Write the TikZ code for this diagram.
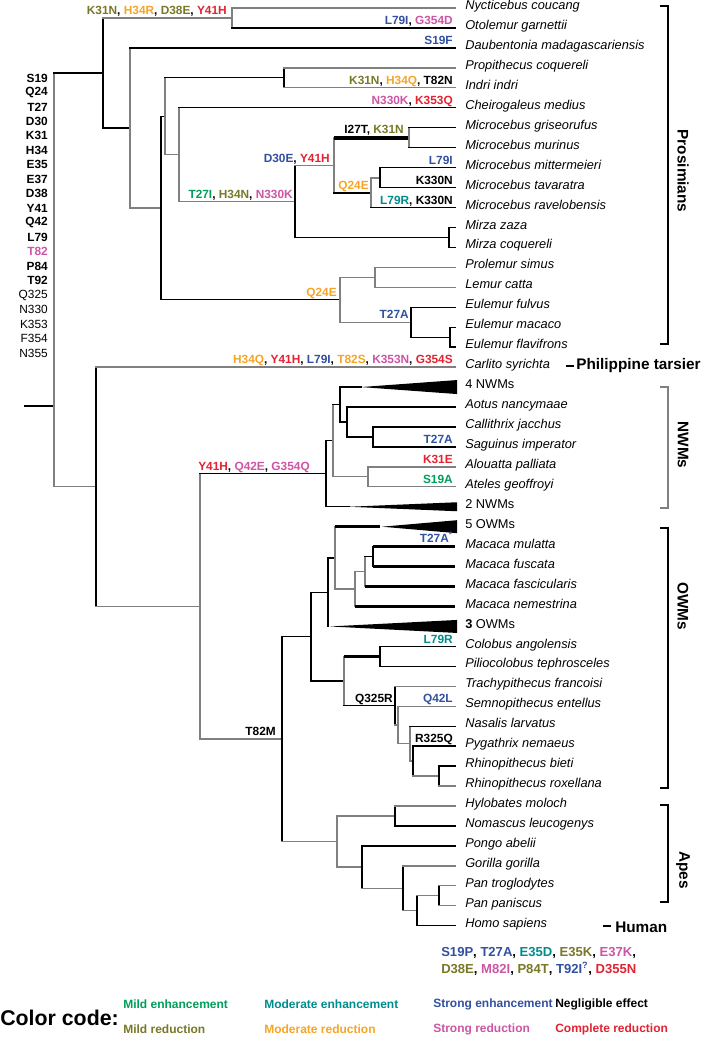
\documentclass[tikz,border=0pt]{standalone}
\usepackage{fontspec}
\setmainfont{Liberation Sans}
\definecolor{tgray}{RGB}{128,128,128}
\definecolor{mildenh}{RGB}{0,158,90}
\definecolor{modenh}{RGB}{0,140,140}
\definecolor{strenh}{RGB}{50,80,160}
\definecolor{mildred}{RGB}{120,120,40}
\definecolor{modred}{RGB}{245,165,40}
\definecolor{strred}{RGB}{205,85,165}
\definecolor{comred}{RGB}{225,35,50}
\newcommand{\cgrn}[1]{\textcolor{mildenh}{#1}}
\newcommand{\cteal}[1]{\textcolor{modenh}{#1}}
\newcommand{\cblue}[1]{\textcolor{strenh}{#1}}
\newcommand{\colv}[1]{\textcolor{mildred}{#1}}
\newcommand{\corg}[1]{\textcolor{modred}{#1}}
\newcommand{\cpink}[1]{\textcolor{strred}{#1}}
\newcommand{\cred}[1]{\textcolor{comred}{#1}}
\tikzset{
  gl/.style={draw=tgray,line width=1pt,line cap=rect},
  bl/.style={draw=black,line width=1pt,line cap=rect},
  tk/.style={draw=black,line width=2.3pt},
  leaf/.style={anchor=base west,inner sep=0pt,yshift=-1.2pt,font=\fontsize{9.6}{11}\selectfont\itshape},
  mut/.style={anchor=base east,inner sep=0pt,yshift=2.5pt,font=\fontsize{8.9}{10}\selectfont\bfseries},
  site/.style={anchor=east,inner sep=0pt,font=\fontsize{8.9}{10}\selectfont\bfseries},
  clade/.style={inner sep=0pt,font=\fontsize{11.5}{13}\selectfont\bfseries},
  key/.style={anchor=west,inner sep=0pt,font=\fontsize{9}{10}\selectfont\bfseries},
}
\begin{document}
\begin{tikzpicture}[x=0.75pt,y=-0.75pt]
    \useasboundingbox (0,0) rectangle (700,1037);
    \foreach \nm [count=\i from 0] in {Nycticebus coucang, Otolemur garnettii,
        Daubentonia madagascariensis, Propithecus coquereli, Indri indri,
        Cheirogaleus medius, Microcebus griseorufus, Microcebus murinus,
        Microcebus mittermeieri, Microcebus tavaratra, Microcebus ravelobensis,
        Mirza zaza, Mirza coquereli, Prolemur simus, Lemur catta, Eulemur fulvus,
        Eulemur macaco, Eulemur flavifrons, Carlito syrichta, \upshape 4 NWMs,
        Aotus nancymaae, Callithrix jacchus, Saguinus imperator, Alouatta palliata,
        Ateles geoffroyi, \upshape 2 NWMs, \upshape 5 OWMs, Macaca mulatta,
        Macaca fuscata, Macaca fascicularis, Macaca nemestrina, \upshape\textbf{3} OWMs,
        Colobus angolensis, Piliocolobus tephrosceles, Trachypithecus francoisi,
        Semnopithecus entellus, Nasalis larvatus, Pygathrix nemaeus,
        Rhinopithecus bieti, Rhinopithecus roxellana, Hylobates moloch,
        Nomascus leucogenys, Pongo abelii, Gorilla gorilla, Pan troglodytes,
        Pan paniscus, Homo sapiens}
    {
        \coordinate (t\i) at (455,{8+19.95*\i});
        \node[leaf] (l\i) at (465,{8+19.95*\i}) {\nm};
    }
    \foreach \s [count=\i from 0] in {S19,Q24,T27,D30,K31,H34,E35,E37,D38,Y41,Q42,L79,
        \color{strred}T82,P84,T92,\mdseries Q325,\mdseries N330,\mdseries K353,
        \mdseries F354,\mdseries N355}
        \node[site] (s\i) at (48,{78+14.47*\i}) {\s};

    \coordinate (stub) at (25,406);
    \coordinate (root) at (54,406);
    \coordinate (str) at (103,73);
    \coordinate (lor) at (232,18);
    \coordinate (lmr) at (130,128);
    \coordinate (lmb) at (161,208);
    \coordinate (lmc) at (165,116.2);
    \coordinate (ind) at (284,77.8);
    \coordinate (chg) at (179,154.6);
    \coordinate (che) at (295,201.5);
    \coordinate (mic) at (334,165.5);
    \coordinate (mgm) at (409,138);
    \coordinate (mcq) at (371,193);
    \coordinate (mmt) at (380,178);
    \coordinate (mir) at (449,237.4);
    \coordinate (lem) at (340,299.8);
    \coordinate (lcat) at (375,277.3);
    \coordinate (eul) at (411,322.2);
    \coordinate (eul2) at (450,337.2);
    \coordinate (hap) at (96,486.8);
    \coordinate (ant) at (200,606.4);
    \coordinate (nwm) at (326,473.7);
    \coordinate (nw1) at (333,440.7);
    \coordinate (ceb) at (340,404.5);
    \coordinate (aot) at (347,422);
    \coordinate (cal) at (373,436.9);
    \coordinate (ate) at (368,476.8);
    \coordinate (w4) at (361,387.05);
    \coordinate (w2) at (349,506.75);
    \coordinate (cat) at (282,739);
    \coordinate (owm) at (311,636.6);
    \coordinate (cer) at (328,592.2);
    \coordinate (mac4) at (335,557.9);
    \coordinate (mac3) at (355,589);
    \coordinate (mac2) at (365,571.6);
    \coordinate (mac1) at (373,556.6);
    \coordinate (w5) at (380,526.7);
    \coordinate (w3) at (330,626.45);
    \coordinate (clb) at (344,681);
    \coordinate (col) at (380,656.4);
    \coordinate (tra) at (395,705.6);
    \coordinate (sem) at (398,725);
    \coordinate (nas) at (410,743.7);
    \coordinate (pyg) at (413,761.1);
    \coordinate (rhi) at (439,776.1);
    \coordinate (ape) at (337,841.5);
    \coordinate (hyl) at (395,816);
    \coordinate (pon) at (362,867.1);
    \coordinate (gor) at (403,888.3);
    \coordinate (hom) at (417,910.7);
    \coordinate (pan) at (439,895.8);

    % root and prosimians
    \draw[bl] (stub) -- (root);
    \draw[gl] (root |- str) -- (root |- hap);
    \draw[bl] (root |- str) -- (str);
    \draw[bl] (str |- lor) -- (str |- lmr);
    \draw[gl] (str |- lor) -- (lor);
    \draw[gl] (lor |- t0) -- (lor |- t1);
    \draw[gl] (lor |- t0) -- (t0);
    \draw[bl] (lor |- t1) -- (t1);
    \draw[bl] (str |- lmr) -- (lmr);
    \draw[gl] (lmr |- t2) -- (lmr |- lmb);
    \draw[bl] (lmr |- t2) -- (t2);
    \draw[gl] (lmr |- lmb) -- (lmb);
    \draw[bl] (lmb |- lmc) -- (lmb |- lem);
    \draw[bl] (lmb |- lmc) -- (lmc);
    \draw[gl] (lmc |- ind) -- (lmc |- chg);
    \draw[bl] (lmc |- ind) -- (ind);
    \draw[bl] (ind |- t3) -- (ind |- t4);
    \draw[gl] (ind |- t3) -- (t3);
    \draw[gl] (ind |- t4) -- (t4);
    \draw[gl] (lmc |- chg) -- (chg);
    \draw[gl] (chg |- t5) -- (chg |- che);
    \draw[bl] (chg |- t5) -- (t5);
    \draw[gl] (chg |- che) -- (che);
    \draw[bl] (che |- mic) -- (che |- mir);
    \draw[gl] (che |- mic) -- (mic);
    \draw[gl] (mic |- mgm) -- (mic |- mcq);
    \draw[tk] (mic |- mgm) -- (mgm);
    \draw[gl] (mgm |- t6) -- (mgm |- t7);
    \draw[bl] (mgm |- t6) -- (t6);
    \draw[bl] (mgm |- t7) -- (t7);
    \draw[bl] (mic |- mcq) -- (mcq);
    \draw[gl] (mcq |- mmt) -- (mcq |- t10);
    \draw[gl] (mcq |- mmt) -- (mmt);
    \draw[bl] (mmt |- t8) -- (mmt |- t9);
    \draw[bl] (mmt |- t8) -- (t8);
    \draw[bl] (mmt |- t9) -- (t9);
    \draw[bl] (mcq |- t10) -- (t10);
    \draw[bl] (che |- mir) -- (mir);
    \draw[bl] (mir |- t11) -- (mir |- t12);
    \draw[bl] (mir |- t11) -- (t11);
    \draw[bl] (mir |- t12) -- (t12);
    \draw[bl] (lmb |- lem) -- (lem);
    \draw[gl] (lem |- lcat) -- (lem |- eul);
    \draw[gl] (lem |- lcat) -- (lcat);
    \draw[gl] (lcat |- t13) -- (lcat |- t14);
    \draw[gl] (lcat |- t13) -- (t13);
    \draw[gl] (lcat |- t14) -- (t14);
    \draw[gl] (lem |- eul) -- (eul);
    \draw[bl] (eul |- t15) -- (eul |- eul2);
    \draw[bl] (eul |- t15) -- (t15);
    \draw[bl] (eul |- eul2) -- (eul2);
    \draw[bl] (eul2 |- t16) -- (eul2 |- t17);
    \draw[bl] (eul2 |- t16) -- (t16);
    \draw[bl] (eul2 |- t17) -- (t17);

    % haplorhines
    \draw[gl] (root |- hap) -- (hap);
    \draw[bl] (hap |- t18) -- (hap |- ant);
    \draw[gl] (hap |- t18) -- (t18);
    \draw[gl] (hap |- ant) -- (ant);
    \draw[gl] (ant |- nwm) -- (ant |- cat);
    \draw[bl] (ant |- nwm) -- (nwm);
    \draw[bl] (nwm |- nw1) -- (nwm |- w2);
    \draw[bl] (nwm |- nw1) -- (nw1);
    \draw[gl] (nw1 |- ceb) -- (nw1 |- ate);
    \draw[bl] (nw1 |- ceb) -- (ceb);
    \draw[bl] (ceb |- w4) -- (ceb |- aot);
    \draw[bl] (ceb |- w4) -- (w4);
    \fill (w4) -- ++(96,-7) -- ++(0,14) -- cycle;
    \draw[bl] (ceb |- aot) -- (aot);
    \draw[bl] (aot |- t20) -- (aot |- cal);
    \draw[bl] (aot |- t20) -- (t20);
    \draw[bl] (aot |- cal) -- (cal);
    \draw[bl] (cal |- t21) -- (cal |- t22);
    \draw[bl] (cal |- t21) -- (t21);
    \draw[bl] (cal |- t22) -- (t22);
    \draw[gl] (nw1 |- ate) -- (ate);
    \draw[gl] (ate |- t23) -- (ate |- t24);
    \draw[gl] (ate |- t23) -- (t23);
    \draw[gl] (ate |- t24) -- (t24);
    \draw[bl] (nwm |- w2) -- (w2);
    \fill (w2) -- ++(108,-4.5) -- ++(0,9) -- cycle;

    \draw[gl] (ant |- cat) -- (cat);
    \draw[bl] (cat |- owm) -- (cat |- ape);
    \draw[bl] (cat |- owm) -- (owm);
    \draw[bl] (owm |- cer) -- (owm |- clb);
    \draw[bl] (owm |- cer) -- (cer);
    \draw[bl] (cer |- mac4) -- (cer |- w3);
    \draw[bl] (cer |- mac4) -- (mac4);
    \draw[gl] (mac4 |- w5) -- (mac4 |- mac3);
    \draw[tk] (mac4 |- w5) -- (w5);
    \fill ([xshift=1.5pt]w5) -- ++(75,-6.5) -- ++(0,13) -- cycle;
    \draw[gl] (mac4 |- mac3) -- (mac3);
    \draw[gl] (mac3 |- mac2) -- (mac3 |- t30);
    \draw[tk] (mac3 |- t30) -- (t30);
    \draw[gl] (mac3 |- mac2) -- (mac2);
    \draw[gl] (mac2 |- mac1) -- (mac2 |- t29);
    \draw[tk] (mac2 |- t29) -- (t29);
    \draw[bl] (mac2 |- mac1) -- (mac1);
    \draw[bl] (mac1 |- t27) -- (mac1 |- t28);
    \draw[tk] (mac1 |- t27) -- (t27);
    \draw[tk] (mac1 |- t28) -- (t28);
    \fill (w3) -- ++(127,-6.5) -- ++(0,13) -- cycle;
    \draw[bl] (owm |- clb) -- (clb);
    \draw[gl] (clb |- col) -- (clb |- tra);
    \draw[tk] (clb |- col) -- (col);
    \draw[bl] (col |- t32) -- (col |- t33);
    \draw[bl] (col |- t32) -- (t32);
    \draw[bl] (col |- t33) -- (t33);
    \draw[bl] (clb |- tra) -- (tra);
    \draw[bl] (tra |- t34) -- (tra |- sem);
    \draw[gl] (tra |- t34) -- (t34);
    \draw[gl] (tra |- sem) -- (sem);
    \draw[gl] (sem |- t35) -- (sem |- nas);
    \draw[gl] (sem |- t35) -- (t35);
    \draw[gl] (sem |- nas) -- (nas);
    \draw[gl] (nas |- t36) -- (nas |- pyg);
    \draw[bl] (nas |- t36) -- (t36);
    \draw[gl] (nas |- pyg) -- (pyg);
    \draw[bl] (pyg |- t37) -- (pyg |- rhi);
    \draw[bl] (pyg |- t37) -- (t37);
    \draw[gl] (pyg |- rhi) -- (rhi);
    \draw[bl] (rhi |- t38) -- (rhi |- t39);
    \draw[bl] (rhi |- t38) -- (t38);
    \draw[gl] (rhi |- t39) -- (t39);

    \draw[gl] (cat |- ape) -- (ape);
    \draw[gl] (ape |- hyl) -- (ape |- pon);
    \draw[gl] (ape |- hyl) -- (hyl);
    \draw[bl] (hyl |- t40) -- (hyl |- t41);
    \draw[gl] (hyl |- t40) -- (t40);
    \draw[bl] (hyl |- t41) -- (t41);
    \draw[gl] (ape |- pon) -- (pon);
    \draw[bl] (pon |- t42) -- (pon |- gor);
    \draw[bl] (pon |- t42) -- (t42);
    \draw[gl] (pon |- gor) -- (gor);
    \draw[bl] (gor |- t43) -- (gor |- hom);
    \draw[gl] (gor |- t43) -- (t43);
    \draw[gl] (gor |- hom) -- (hom);
    \draw[bl] (hom |- pan) -- (hom |- t46);
    \draw[gl] (hom |- pan) -- (pan);
    \draw[bl] (hom |- t46) -- (t46);
    \draw[bl] (pan |- t44) -- (pan |- t45);
    \draw[gl] (pan |- t44) -- (t44);
    \draw[gl] (pan |- t45) -- (t45);

    % substitutions on branches
    \node[mut,xshift=-3.75pt] (mLor) at (lor) {\colv{K31N}, \corg{H34R}, \colv{D38E}, \cred{Y41H}};
    \node[mut,xshift=-1.5pt] (mOto) at (t1) {\cblue{L79I}, \cpink{G354D}};
    \node[mut,xshift=-1.5pt] (mDau) at (t2) {\cblue{S19F}};
    \node[mut,xshift=-1.5pt] (mInd) at (t4) {\colv{K31N}, \corg{H34Q}, T82N};
    \node[mut,xshift=-1.5pt] (mChe) at (t5) {\cpink{N330K}, \cred{K353Q}};
    \node[mut,xshift=-1.5pt] (mCh2) at (che) {\cgrn{T27I}, \colv{H34N}, \cpink{N330K}};
    \node[mut,xshift=-3pt] (mMic) at (mic) {\cblue{D30E}, \cred{Y41H}};
    \node[mut,xshift=-3.75pt,yshift=1pt] (mMgm) at (mgm) {I27T, \colv{K31N}};
    \node[mut,xshift=-1.5pt] (mMcq) at (mcq) {\corg{Q24E}};
    \node[mut,xshift=-1.5pt] (mMit) at (t8) {\cblue{L79I}};
    \node[mut,xshift=-1.5pt] (mTav) at (t9) {K330N};
    \node[mut,xshift=-1.5pt] (mRav) at (t10) {\cteal{L79R}, K330N};
    \node[mut,xshift=-2.25pt] (mLem) at (lem) {\corg{Q24E}};
    \node[mut,xshift=-1.5pt] (mEul) at (eul) {\cblue{T27A}};
    \node[mut,xshift=-1.5pt] (mCar) at (t18) {\corg{H34Q}, \cred{Y41H}, \cblue{L79I}, \corg{T82S}, \cpink{K353N}, \cred{G354S}};
    \node[mut,xshift=-12pt] (mNwm) at (nwm) {\cred{Y41H}, \cpink{Q42E}, \cpink{G354Q}};
    \node[mut,xshift=-1.5pt] (mSag) at (t22) {\cblue{T27A}};
    \node[mut,xshift=-1.5pt] (mAlo) at (t23) {\cred{K31E}};
    \node[mut,xshift=-1.5pt] (mAte) at (t24) {\cgrn{S19A}};
    \node[mut,xshift=-1.5pt,yshift=0.5pt] (mMul) at (t27) {\cblue{T27A\textsuperscript{*}}};
    \node[mut,xshift=-1.5pt] (mCol) at (t32) {\cteal{L79R}};
    \node[mut,xshift=-1.5pt] (mSem) at (t35) {\cblue{Q42L}};
    \node[mut,xshift=-1.5pt] (mTra) at (tra) {Q325R};
    \node[mut,xshift=-1.5pt] (mPyg) at (t37) {R325Q};
    \node[mut,xshift=-4.5pt] (mCat) at (cat) {T82M};

    % clades
    \draw[line width=1pt] (660,6) -- (668,6) -- (668,344) -- (660,344);
    \node[clade,rotate=-90] (cPro) at (683,171) {Prosimians};
    \draw[line width=1pt] (566,366) -- (574,366);
    \node[clade,anchor=west] (cTar) at (576,366) {Philippine tarsier};
    \draw[gl,line cap=butt] (660,387) -- (668,387) -- (668,508) -- (660,508);
    \node[clade,rotate=-90] (cNwm) at (683,445) {NWMs};
    \draw[line width=1pt] (660,528) -- (668,528) -- (668,788) -- (660,788);
    \node[clade,rotate=-90] (cOwm) at (683,606) {OWMs};
    \draw[line width=1pt] (660,805) -- (668,805) -- (668,902) -- (660,902);
    \node[clade,rotate=-90] (cApe) at (683,870) {Apes};
    \draw[line width=1pt] (603,926) -- (611,926);
    \node[clade,anchor=west] (cHum) at (615,927) {Human};

    \node[mut,anchor=base west,yshift=0pt,font=\fontsize{9.8}{11}\selectfont\bfseries] (hs1) at (441,959.5)
        {\cblue{S19P}, \cblue{T27A}, \cteal{E35D}, \colv{E35K}, \cpink{E37K},};
    \node[mut,anchor=base west,yshift=0pt,font=\fontsize{9.8}{11}\selectfont\bfseries] (hs2) at (441,976.5)
        {\colv{D38E}, \cpink{M82I}, \colv{P84T}, \cblue{T92I\textsuperscript{?}}, \cred{D355N}};

    % legend
    \node[anchor=west,inner sep=0pt,font=\fontsize{16}{18}\selectfont\bfseries] (cc) at (0,1018) {Color code:};
    \node[key,text=mildenh] (k1) at (123,1004) {Mild enhancement};
    \node[key,text=mildred] (k2) at (123,1029) {Mild reduction};
    \node[key,text=modenh] (k3) at (264,1004) {Moderate enhancement};
    \node[key,text=modred] (k4) at (264,1029) {Moderate reduction};
    \node[key,text=strenh] (k5) at (433,1004) {Strong enhancement};
    \node[key,text=strred] (k6) at (433,1029) {Strong reduction};
    \node[key] (k7) at (555,1004) {Negligible effect};
    \node[key,text=comred] (k8) at (555,1029) {Complete reduction};
\end{tikzpicture}
\end{document}
